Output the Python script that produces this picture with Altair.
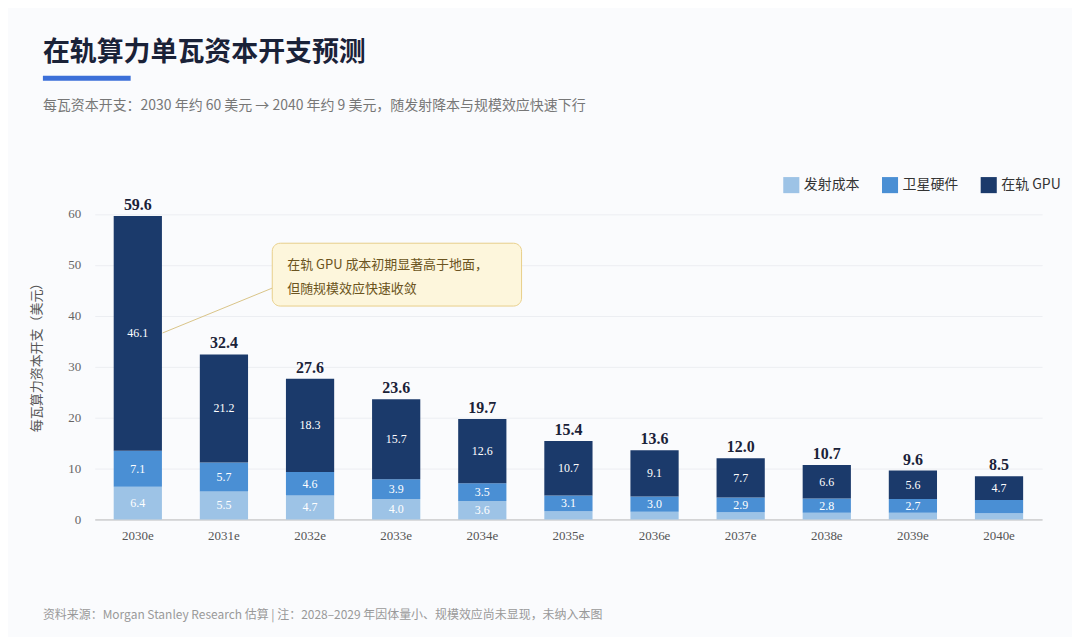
import pandas as pd
import altair as alt

years = ["2030e", "2031e", "2032e", "2033e", "2034e", "2035e", "2036e", "2037e", "2038e", "2039e", "2040e"]
launch = [6.4, 5.5, 4.7, 4.0, 3.6, 1.6, 1.5, 1.4, 1.3, 1.3, 1.2]
hardware = [7.1, 5.7, 4.6, 3.9, 3.5, 3.1, 3.0, 2.9, 2.8, 2.7, 2.6]
gpu = [46.1, 21.2, 18.3, 15.7, 12.6, 10.7, 9.1, 7.7, 6.6, 5.6, 4.7]
totals = [59.6, 32.4, 27.6, 23.6, 19.7, 15.4, 13.6, 12.0, 10.7, 9.6, 8.5]
series = ["发射成本", "卫星硬件", "在轨 GPU"]
colors = ["#9dc3e6", "#4a8fd4", "#1b3a6b"]

rows = []
for i, y in enumerate(years):
    base = 0
    for k, (name, vals) in enumerate(zip(series, [launch, hardware, gpu])):
        v = vals[i]
        rows.append({"year": y, "series": name, "order": k, "v0": base, "v1": base + v,
                     "mid": base + v / 2, "label": f"{v:.1f}" if v >= 2.7 else ""})
        base += v
seg = pd.DataFrame(rows)
tot = pd.DataFrame({"year": years, "total": totals, "label": [f"{t:.1f}" for t in totals]})

SERIF = "Liberation Serif, DejaVu Serif, Noto Sans CJK SC"
CJK = "Noto Sans CJK SC"
W, H = 950, 332

x = alt.X("year:N", sort=years, title=None,
          scale=alt.Scale(paddingInner=0.44, paddingOuter=0.22),
          axis=alt.Axis(labelAngle=0, labelFont=SERIF, labelFontSize=13, labelColor="#555",
                        domainColor="#bbb", ticks=False, labelPadding=10))
yscale = alt.Scale(domain=[0, 65])

bars = alt.Chart(seg).mark_bar().encode(
    x=x,
    y=alt.Y("v0:Q", scale=yscale, title="每瓦算力资本开支（美元）",
            axis=alt.Axis(values=[0, 10, 20, 30, 40, 50, 60], domain=False, ticks=False,
                          gridColor="#eceef2", labelFont=SERIF, labelFontSize=13, labelColor="#666",
                          titleFont=CJK, titleFontSize=13, titleColor="#555", titleFontWeight="normal",
                          labelPadding=14, titlePadding=24)),
    y2="v1:Q",
    color=alt.Color("series:N", sort=series, scale=alt.Scale(domain=series, range=colors),
                    legend=alt.Legend(title=None, orient="none", legendX=690, legendY=-12,
                                      direction="horizontal", symbolType="square", symbolSize=260,
                                      labelFont=CJK, labelFontSize=14, labelColor="#333",
                                      columnPadding=22, symbolStrokeWidth=0)),
    order="order:Q",
)

seglabels = alt.Chart(seg).mark_text(color="white", font=SERIF, fontSize=12).encode(
    x=alt.X("year:N", sort=years), y=alt.Y("mid:Q", scale=yscale), text="label:N")

totlabels = alt.Chart(tot).mark_text(dy=-11, font=SERIF, fontSize=16, fontWeight="bold", color="#1a2238").encode(
    x=alt.X("year:N", sort=years), y=alt.Y("total:Q", scale=yscale), text="label:N")

ann = pd.DataFrame({"t": [0]})
leader = alt.Chart(ann).mark_rule(color="#d9c488", strokeWidth=1).encode(
    x=alt.value(68), y=alt.value(145), x2=alt.value(178), y2=alt.value(100))
box = alt.Chart(ann).mark_rect(fill="#fdf6dc", stroke="#e8cf8a", cornerRadius=8).encode(
    x=alt.value(178), x2=alt.value(428), y=alt.value(55), y2=alt.value(118))


def note(text, xv, yv, size, color, weight="normal", font=CJK):
    return alt.Chart(ann).mark_text(align="left", baseline="middle", font=font, fontSize=size,
                                    fontWeight=weight, color=color).encode(
        x=alt.value(xv), y=alt.value(yv), text=alt.value(text))


box1 = note("在轨 GPU 成本初期显著高于地面，", 193, 77, 13, "#6b5420")
box2 = note("但随规模效应快速收敛", 193, 101, 13, "#6b5420")
title = note("在轨算力单瓦资本开支预测", -52, -136, 27, "#1a2238", "bold")
underline = alt.Chart(ann).mark_rect(color="#3b6fd8").encode(
    x=alt.value(-52), x2=alt.value(36), y=alt.value(-113), y2=alt.value(-108))
subtitle = note("每瓦资本开支：2030 年约 60 美元 → 2040 年约 9 美元，随发射降本与规模效应快速下行",
                -52, -83, 14, "#777")
footer = note("资料来源：Morgan Stanley Research 估算  |  注：2028–2029 年因体量小、规模效应尚未显现，未纳入本图",
              -52, 428, 12, "#999")

chart = alt.layer(bars, seglabels, totlabels, leader, box, box1, box2, title, underline, subtitle, footer).properties(
    width=W, height=H, background="#fafbfd",
    padding={"left": 87, "top": 180, "right": 30, "bottom": 120},
    autosize=alt.AutoSizeParams(type="none"),
).configure_view(stroke=None)

chart.save("out.html", embed_options={"renderer": "svg", "actions": False})
